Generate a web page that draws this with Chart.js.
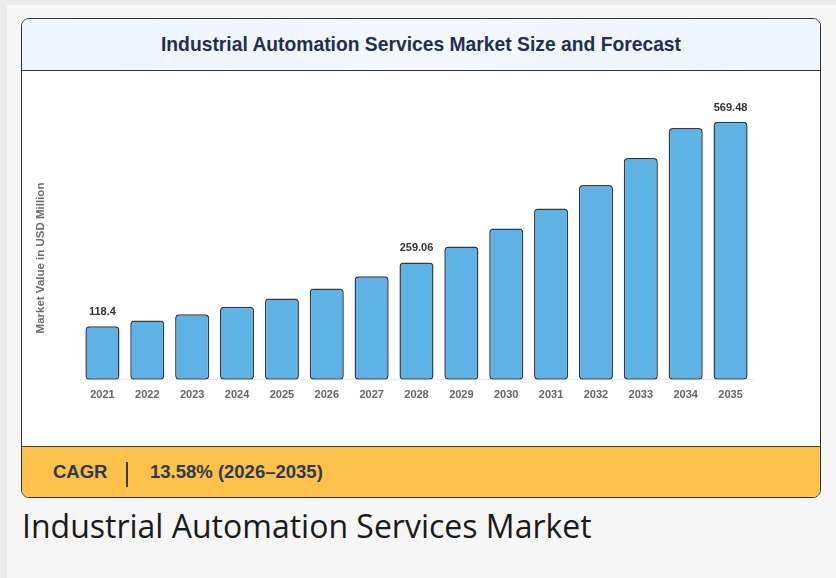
<!DOCTYPE html>
<html>
<head>
<meta charset="utf-8">
<script src="https://cdn.jsdelivr.net/npm/chart.js@4/dist/chart.umd.min.js"></script>
<style>
  body { margin: 0; background: #ebebeb; font-family: "Liberation Sans", Arial, sans-serif; }
  .page { position: absolute; left: 7px; top: 5px; width: 829px; height: 573px; background: #f6f6f6; }
  .card { position: absolute; left: 14px; top: 13px; width: 798px; border: 1px solid #333; border-radius: 8px; overflow: hidden; background: #fff; }
  .head { height: 51px; border-bottom: 1px solid #333; background: linear-gradient(90deg, #edf4fc, #f4f8fe 50%, #edf4fc); text-align: center; line-height: 51px; font-weight: bold; font-size: 19.3px; color: #1f2f4d; }
  .body { position: relative; width: 798px; height: 375px; }
  .foot { height: 50px; border-top: 1px solid #444; background: #fec14b; color: #2b3a4f; font-weight: bold; font-size: 18.5px; position: relative; }
  .foot span { position: absolute; top: 14px; }
  .sep { position: absolute; left: 104px; top: 15px; width: 1.5px; height: 25px; background: #3a3a3a; }
  .caption { position: absolute; left: 15px; top: 499px; font-family: "Open Sans", sans-serif; font-size: 32px; color: #1a1a1a; }
</style>
</head>
<body>
<div class="page">
  <div class="card">
    <div class="head">Industrial Automation Services Market Size and Forecast</div>
    <div class="body"><canvas id="marketChart"></canvas></div>
    <div class="foot">
      <span style="left:31px">CAGR</span>
      <div class="sep"></div>
      <span style="left:128px">13.58% (2026–2035)</span>
    </div>
  </div>
  <div class="caption">Industrial Automation Services Market</div>
</div>
<script>
// values
const years = ['2021', '2022', '2023', '2024', '2025', '2026', '2027', '2028', '2029', '2030', '2031', '2032', '2033', '2034', '2035'];
const marketValues = [118.4, 131, 144.5, 161, 179.5, 201.5, 228.5, 259.06, 294, 334, 378, 430, 489.5, 556, 569.48];
const labeledYears = ['2021', '2028', '2035'];
const yTitle = 'Market Value in USD Million';

Chart.defaults.font.family = '"Liberation Sans", Arial, sans-serif';

// value labels over some bars + rotated axis title
const barLabels = {
  id: 'barLabels',
  afterDatasetsDraw(chart) {
    const ctx = chart.ctx;
    const meta = chart.getDatasetMeta(0);
    ctx.save();
    ctx.font = 'bold 11px "Liberation Sans", Arial, sans-serif';
    ctx.fillStyle = '#333';
    ctx.textAlign = 'center';
    ctx.textBaseline = 'middle';
    meta.data.forEach((bar, i) => {
      if (labeledYears.includes(years[i])) {
        ctx.fillText(String(marketValues[i]), bar.x, bar.y - 14);
      }
    });
    // y title
    ctx.translate(19, 187);
    ctx.rotate(-Math.PI / 2);
    ctx.font = 'bold 11.5px "Liberation Sans", Arial, sans-serif';
    ctx.fillStyle = '#6b6b6b';
    ctx.fillText(yTitle, 0, 0);
    ctx.restore();
  }
};

new Chart(document.getElementById('marketChart'), {
  type: 'bar',
  data: {
    labels: years,
    datasets: [{
      data: marketValues,
      backgroundColor: '#5eb2e5',
      borderColor: '#2f3b47',
      borderWidth: 1.5,
      borderRadius: 4,
      borderSkipped: false,
      categoryPercentage: 1,
      barPercentage: 0.76
    }]
  },
  options: {
    responsive: true,
    maintainAspectRatio: false,
    animation: false,
    layout: { padding: { left: 58, right: 67, top: 37, bottom: 35 } },
    plugins: { legend: { display: false }, tooltip: { enabled: false } },
    scales: {
      x: {
        grid: { display: false, drawTicks: false },
        border: { display: true, color: '#e6ecf2' },
        ticks: { color: '#666', padding: 9, font: { size: 11, weight: 'bold' } }
      },
      y: {
        display: false,
        min: 0,
        max: 600
      }
    }
  },
  plugins: [barLabels]
});
</script>
</body>
</html>
